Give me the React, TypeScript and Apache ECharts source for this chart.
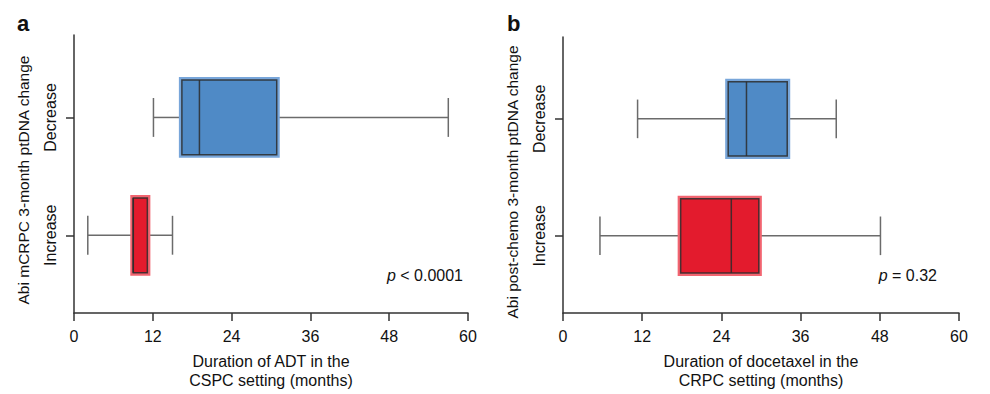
import React, { useEffect, useRef } from "react";
import * as echarts from "echarts";

// y positions: Increase = 1, Decrease = 2
const categories = ["Increase", "Decrease"];
const categoryPos = [1, 2];
const xTicks = [0, 12, 24, 36, 48, 60];

// [y, whiskerLow, Q1, median, Q3, whiskerHigh]
const panelAIncrease = [1, 2.1, 8.8, 9.0, 11.4, 15.0];
const panelADecrease = [2, 12.1, 16.2, 19.1, 31.1, 57.0];
const panelBIncrease = [1, 5.6, 17.6, 25.5, 29.9, 48.1];
const panelBDecrease = [2, 11.3, 24.8, 27.8, 34.2, 41.4];

const panelATexts = {
  label: "a",
  yName: "Abi mCRPC 3-month ptDNA change",
  xName: "Duration of ADT in the\nCSPC setting (months)",
  pValue: "< 0.0001",
};
const panelBTexts = {
  label: "b",
  yName: "Abi post-chemo 3-month ptDNA change",
  xName: "Duration of docetaxel in the\nCRPC setting (months)",
  pValue: "= 0.32",
};

const FONT = "Liberation Sans, Arial, sans-serif";
const BLUE = "#4f8ac6";
const BLUE_EDGE = "#78a6da";
const RED = "#e31b2d";
const RED_EDGE = "#f26470";
const DARK = "#2b2b2b";
const WHISKER = "#6b6b6b";

function renderBox(params: any, api: any) {
  const y = api.value(0);
  const lo = api.value(1);
  const q1 = api.value(2);
  const med = api.value(3);
  const q3 = api.value(4);
  const hi = api.value(5);
  const isInc = y === 1;
  const fill = isInc ? RED : BLUE;
  const edge = isInc ? RED_EDGE : BLUE_EDGE;
  const boxH = api.size([0, 0.66])[1];
  const capH = api.size([0, 0.33])[1];
  const pLo = api.coord([lo, y]);
  const pQ1 = api.coord([q1, y]);
  const pMed = api.coord([med, y]);
  const pQ3 = api.coord([q3, y]);
  const pHi = api.coord([hi, y]);
  const cy = pLo[1];
  const lineStyle = { stroke: WHISKER, lineWidth: 1.5 };
  return {
    type: "group",
    children: [
      { type: "line", shape: { x1: pLo[0], y1: cy, x2: pQ1[0], y2: cy }, style: lineStyle },
      { type: "line", shape: { x1: pQ3[0], y1: cy, x2: pHi[0], y2: cy }, style: lineStyle },
      { type: "line", shape: { x1: pLo[0], y1: cy - capH / 2, x2: pLo[0], y2: cy + capH / 2 }, style: lineStyle },
      { type: "line", shape: { x1: pHi[0], y1: cy - capH / 2, x2: pHi[0], y2: cy + capH / 2 }, style: lineStyle },
      {
        type: "rect",
        shape: { x: pQ1[0], y: cy - boxH / 2, width: pQ3[0] - pQ1[0], height: boxH },
        style: { fill: fill, stroke: edge, lineWidth: 3 },
      },
      {
        type: "rect",
        shape: { x: pQ1[0] + 1.5, y: cy - boxH / 2 + 1.5, width: pQ3[0] - pQ1[0] - 3, height: boxH - 3 },
        style: { fill: "none", stroke: DARK, lineWidth: 1.5, opacity: 0.85 },
      },
      {
        type: "line",
        shape: { x1: pMed[0], y1: cy - boxH / 2 + 1.5, x2: pMed[0], y2: cy + boxH / 2 - 1.5 },
        style: { stroke: DARK, lineWidth: 1.5, opacity: 0.85 },
      },
    ],
  };
}

export default function App() {
  const ref = useRef<HTMLDivElement>(null);
  useEffect(() => {
    if (!ref.current) return;
    const chart = echarts.init(ref.current, null, { renderer: "svg" });
    const grids = [
      { left: 74, top: 35, width: 394, height: 278, outerBoundsMode: "none", containLabel: false },
      { left: 563, top: 37, width: 396, height: 276, outerBoundsMode: "none", containLabel: false },
    ];
    const pPos = [463, 937];
    const labelPos = [17, 507];
    const namePad = [12, 14];
    const texts = [panelATexts, panelBTexts];
    const xAxis = texts.map((t, i) => ({
      type: "value",
      gridIndex: i,
      min: 0,
      max: 60,
      interval: 12,
      splitLine: { show: false },
      axisLine: { show: true, lineStyle: { color: "#333", width: 1.5 } },
      axisTick: { show: true, length: 8, lineStyle: { color: "#333", width: 1.5 } },
      axisLabel: {
        color: "#111",
        fontSize: 16,
        fontFamily: FONT,
        margin: 15,
        formatter: (v: number) => (xTicks.includes(v) ? String(v) : ""),
      },
      name: t.xName,
      nameLocation: "middle",
      nameGap: 39,
      nameTextStyle: { color: "#111", fontSize: 16, fontFamily: FONT, lineHeight: 19 },
    }));
    const yAxis = texts.map((t, i) => ({
      type: "value",
      gridIndex: i,
      min: 0.34,
      max: 2.7,
      splitLine: { show: false },
      axisLine: { show: true, lineStyle: { color: "#333", width: 1.5 } },
      axisTick: {
        show: true,
        length: 8,
        customValues: categoryPos,
        lineStyle: { color: "#333", width: 1.5 },
      },
      axisLabel: {
        show: true,
        customValues: categoryPos,
        rotate: 90,
        color: "#111",
        fontSize: 16,
        fontFamily: FONT,
        margin: 16,
        formatter: (v: number) => categories[categoryPos.indexOf(v)] ?? "",
      },
      name: t.yName,
      nameLocation: "middle",
      nameRotate: 90,
      nameGap: 43,
      nameTextStyle: {
        color: "#111",
        fontSize: 15.5,
        fontFamily: FONT,
        padding: [0, namePad[i], 0, 0],
      },
    }));
    const data = [
      [panelAIncrease, panelADecrease],
      [panelBIncrease, panelBDecrease],
    ];
    const series = data.map((d, i) => ({
      type: "custom",
      xAxisIndex: i,
      yAxisIndex: i,
      encode: { x: [1, 2, 3, 4, 5], y: 0 },
      renderItem: renderBox,
      data: d,
      silent: true,
    }));
    const graphic: any[] = [];
    texts.forEach((t, i) => {
      graphic.push({
        type: "text",
        left: labelPos[i],
        top: 12,
        style: { text: t.label, fontSize: 22, fontWeight: "bold", fontFamily: FONT, fill: "#111" },
      });
      graphic.push({
        type: "text",
        x: pPos[i],
        y: 275,
        style: {
          text: "{i|p} " + t.pValue,
          align: "right",
          verticalAlign: "middle",
          fontSize: 16,
          fontFamily: FONT,
          fill: "#111",
          rich: { i: { fontStyle: "italic", fontSize: 16, fontFamily: FONT, fill: "#111" } },
        },
      });
    });
    chart.setOption({
      animation: false,
      backgroundColor: "#fff",
      grid: grids,
      xAxis,
      yAxis,
      series,
      graphic,
    });
    return () => chart.dispose();
  }, []);
  return (
    <div
      ref={ref}
      style={{ position: "fixed", left: 0, top: 0, width: 990, height: 394 }}
    />
  );
}
